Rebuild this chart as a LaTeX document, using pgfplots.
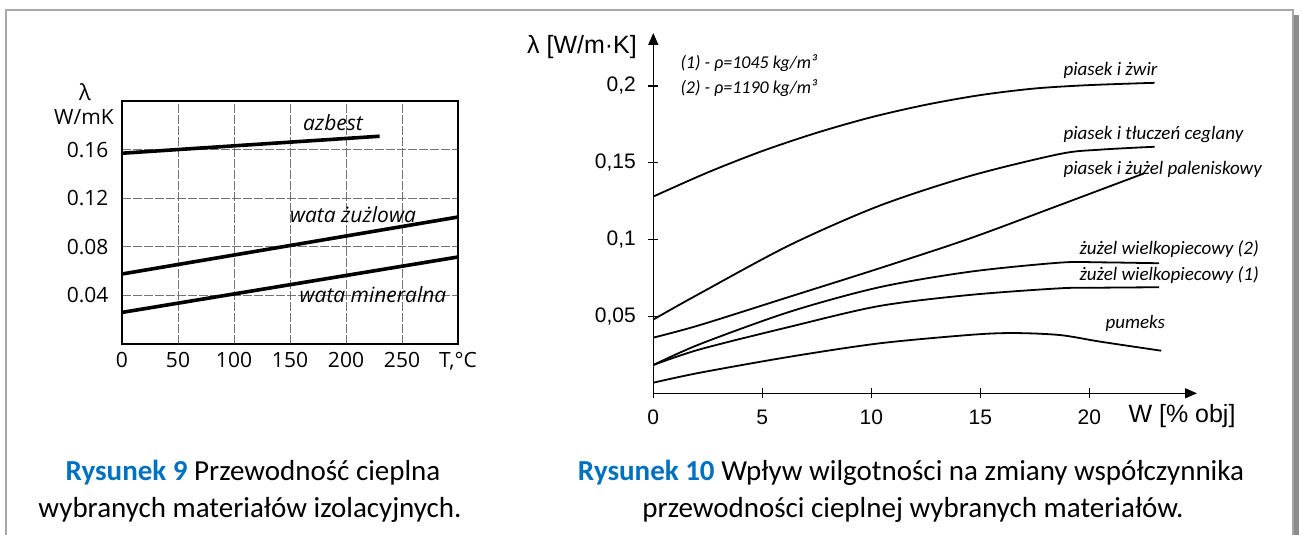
\documentclass[border=0pt]{standalone}
\usepackage{pgfplots}
\pgfplotsset{compat=1.18}
\usepackage{fontspec}
\setmainfont{Carlito}
\newfontfamily\osans{Open Sans}
\newfontfamily\lsans{Liberation Sans}
\usetikzlibrary{arrows.meta}
\definecolor{capblue}{RGB}{0,112,192}
\begin{document}
\begin{tikzpicture}[x=1pt,y=1pt]
\useasboundingbox (0,0) rectangle (1302,535);
% page frame
\fill[black!45] (1294,0) rectangle (1299,520);
\draw[black!35, line width=1.2pt] (6,0) -- (6,525) -- (1293,525) -- (1293,0);

% ---------- left chart ----------
\begin{axis}[at={(122pt,191pt)}, anchor=south west, scale only axis,
  width=336pt, height=243pt,
  xmin=0, xmax=300, ymin=0, ymax=0.2,
  xtick={0,50,100,150,200,250,300},
  xticklabels={0,50,100,150,200,250,{T,°C}},
  ytick={0.04,0.08,0.12,0.16},
  yticklabels={0.04,0.08,0.12,0.16},
  major tick length=0pt,
  grid=major,
  grid style={black!55, line width=0.7pt, dash pattern=on 9pt off 2pt},
  axis line style={line width=1.6pt},
  tick label style={font=\osans\fontsize{21}{24}\selectfont},
  yticklabel style={xshift=-10pt},
  xticklabel style={yshift=-5pt},
  clip=false]
\addplot[line width=3.6pt] coordinates {(0,0.157) (230,0.171)};
\addplot[line width=3.6pt] coordinates {(0,0.0576) (300,0.1045)};
\addplot[line width=3.6pt] coordinates {(0,0.026) (300,0.0716)};
\end{axis}
\node[font=\osans\fontsize{22}{24}\selectfont] at (85,443) {λ};
\node[font=\osans\fontsize{21}{24}\selectfont] at (84,418) {W/mK};
\node[font=\osans\itshape\fontsize{21}{24}\selectfont] at (333,412) {azbest};
\node[font=\osans\itshape\fontsize{21}{24}\selectfont] at (353,320) {wata żużlowa};
\node[font=\osans\itshape\fontsize{21}{24}\selectfont] at (373,240) {wata mineralna};

% ---------- right chart ----------
\begin{axis}[at={(653.3pt,141.7pt)}, anchor=south west, scale only axis,
  width=543.7pt, height=360.3pt,
  xmin=0, xmax=24.94, ymin=0, ymax=0.2344,
  axis lines=left,
  axis line style={line width=1.4pt, -{Triangle[length=12pt,width=10pt]}},
  xtick={0,5,10,15,20}, xticklabels={0,5,10,15,20},
  ytick={0.05,0.1,0.15,0.2}, yticklabels={{0,05},{0,1},{0,15},{0,2}},
  tick align=center, major tick length=10pt,
  tick style={line width=1.4pt, black},
  tick label style={font=\lsans\fontsize{21}{24}\selectfont},
  yticklabel style={xshift=-9pt},
  xticklabel style={yshift=-8pt},
  clip=false]
% piasek i zwir
\addplot[smooth, line width=1.8pt] coordinates {(0,0.128) (2.5,0.1437) (5,0.1576) (7.5,0.1695) (10,0.1796) (12.5,0.1877) (15,0.1940) (17.5,0.1983) (20,0.2005) (23,0.202)};
% piasek i tluczen ceglany
\addplot[smooth, line width=1.8pt] coordinates {(0,0.048) (2.14,0.065) (6.27,0.0965) (10.37,0.122) (14.53,0.1414) (18.65,0.1557) (20.5,0.1585) (23,0.1604)};
% piasek i zuzel paleniskowy
\addplot[smooth, line width=1.8pt] coordinates {(0,0.0362) (2.14,0.0444) (6.27,0.0629) (10.37,0.0813) (14.53,0.1008) (18.65,0.1225) (22.5,0.143)};
% zuzel wielkopiecowy (2)
\addplot[smooth, line width=1.8pt] coordinates {(0,0.0184) (2.14,0.032) (6.27,0.0531) (10.37,0.069) (14.53,0.0791) (18.65,0.085) (20.5,0.0852) (23.2,0.0846)};
% zuzel wielkopiecowy (1)
\addplot[smooth, line width=1.8pt] coordinates {(0,0.0184) (2.14,0.0286) (6.27,0.0433) (10.37,0.0568) (14.53,0.064) (18.65,0.0683) (20.5,0.0687) (23.2,0.069)};
% pumeks
\addplot[smooth, line width=1.8pt] coordinates {(0,0.0069) (2.14,0.0134) (6.27,0.0238) (10.37,0.0325) (14.53,0.038) (16.5,0.0392) (18.65,0.0379) (20.5,0.0336) (23.3,0.0277)};
\end{axis}
% cover the tick mark at x=0 below the axis (tick belongs to label "0" only)
\node[font=\lsans\fontsize{25}{28}\selectfont] at (582,488) {λ [W/m·K]};
\node[font=\lsans\fontsize{25}{28}\selectfont] at (1182,119) {W [\% obj]};
\node[anchor=west, font=\itshape\fontsize{18}{20}\selectfont] at (677,472) {(1) - ρ=1045 kg/m³};
\node[anchor=west, font=\itshape\fontsize{18}{20}\selectfont] at (677,447) {(2) - ρ=1190 kg/m³};
\begin{scope}[every node/.style={anchor=west, font=\itshape\fontsize{19}{21}\selectfont}]
\node at (1060,465) {piasek i żwir};
\node at (1060,400) {piasek i tłuczeń ceglany};
\node at (1060,366) {piasek i żużel paleniskowy};
\node at (1076,286) {żużel wielkopiecowy (2)};
\node at (1076,260) {żużel wielkopiecowy (1)};
\node at (1102,212) {pumeks};
\end{scope}

% ---------- captions ----------
\begin{scope}[every node/.style={font=\fontsize{29}{34}\selectfont}]
\node at (253,62) {\textcolor{capblue}{\bfseries Rysunek 9} Przewodność cieplna};
\node at (250,25) {wybranych materiałów izolacyjnych.};
\node at (911,62) {\textcolor{capblue}{\bfseries Rysunek 10} Wpływ wilgotności na zmiany współczynnika};
\node at (913,25) {przewodności cieplnej wybranych materiałów.};
\end{scope}
\end{tikzpicture}
\end{document}
